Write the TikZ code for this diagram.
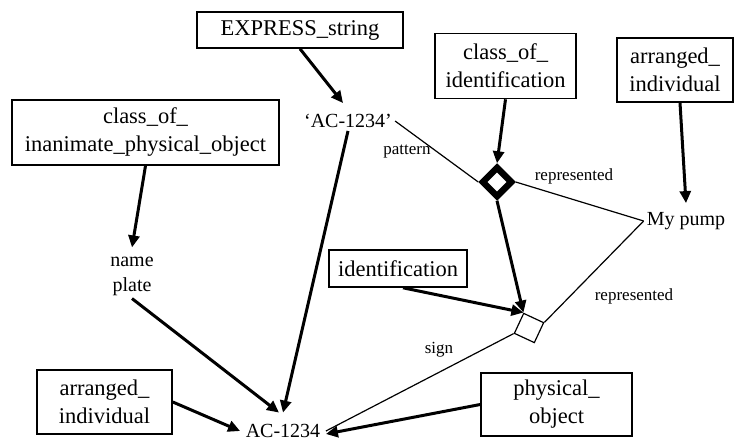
\documentclass[tikz,border=0pt]{standalone}
\usepackage{fontspec}
\setmainfont{Liberation Serif}
\usetikzlibrary{shapes.geometric,arrows.meta}
\begin{document}
\begin{tikzpicture}[x=1pt,y=-1pt,
  box/.style={draw,line width=1.6pt,align=center,inner sep=0pt,font=\fontsize{22.5}{28}\selectfont},
  txt/.style={align=center,inner sep=3pt,font=\fontsize{20}{25}\selectfont},
  lbl/.style={inner sep=0pt,font=\fontsize{17}{20}\selectfont},
  arr/.style={line width=3pt,-{Triangle[length=12pt,width=11pt]}},
  thinline/.style={line width=1.2pt}]
\useasboundingbox (0,0) rectangle (738,441);
% boxes
\node[box,minimum width=206pt,minimum height=36pt] (es) at (300,30) {EXPRESS\_string};
\node[box,minimum width=141pt,minimum height=65pt] (cid) at (505.5,66) {class\_of\_\\identification};
\node[box,minimum width=116pt,minimum height=64pt] (ait) at (675,70) {arranged\_\\individual};
\node[box,minimum width=267pt,minimum height=65pt] (cio) at (145.5,132.5) {class\_of\_\\inanimate\_physical\_object};
\node[box,minimum width=138pt,minimum height=37pt] (idn) at (398,268.5) {identification};
\node[box,minimum width=135pt,minimum height=64pt] (aib) at (104.5,402) {arranged\_\\individual};
\node[box,minimum width=151pt,minimum height=63pt] (po) at (556.5,404.5) {physical\_\\object};
% plain texts
\node[txt] (ac) at (348,121) {‘AC-1234’};
\node[txt] (np) at (132,276) {name\\plate};
\node[txt] (pump) at (686,221) {My pump};
\node[txt,inner sep=1.5pt] (acb) at (283,431) {AC-1234};
% relationship shapes
\node[draw,diamond,line width=6.5pt,minimum size=31pt,inner sep=0pt] (dia) at (497,182) {};
\node[draw,rectangle,rotate=-25,line width=1.2pt,minimum size=22pt,inner sep=0pt] (sq) at (529,328) {};
% labels
\node[lbl] (lpat) at (407,152) {pattern};
\node[lbl] (lrep1) at (574,176) {represented};
\node[lbl] (lrep2) at (634,296) {represented};
\node[lbl] (lsign) at (439,350) {sign};
% thick arrows
\draw[arr] (es.south) -- ([xshift=-5pt,yshift=8pt]ac.north);
\draw[arr] (cio.south) -- ([yshift=6pt]np.north);
\draw[arr] (ac.south) -- ([yshift=10pt]acb.north);
\draw[arr] (np.south) -- ([xshift=-4pt,yshift=10pt]acb.north);
\draw[arr] (cid.south) -- (dia.north);
\draw[arr] ([xshift=5pt]ait.south) -- ([yshift=6pt]pump.north);
\draw[arr] (dia.south) -- (sq.north west);
\draw[arr] ([xshift=5pt]idn.south) -- (sq.north west);
\draw[arr] (po.west) -- ([xshift=4pt,yshift=-3pt]acb.east);
\draw[arr] (aib.east) -- ([xshift=-4pt]acb.west);
% thin lines
\draw[thinline] (ac.east) -- (dia.west);
\draw[thinline] (dia.east) -- (pump.west);
\draw[thinline] (sq.north east) -- (pump.west);
\draw[thinline] (sq.south west) -- ([xshift=4pt]acb.east);
\end{tikzpicture}
\end{document}
